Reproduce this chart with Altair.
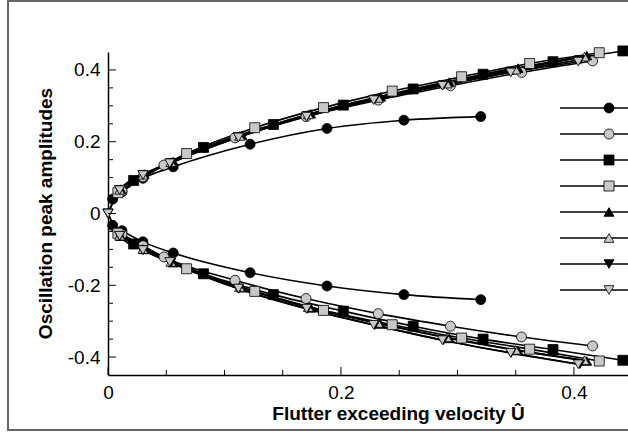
import altair as alt
import pandas as pd

# ---------------- data ----------------
names = ["Case 1", "Case 2", "Case 3", "Case 4", "Case 5", "Case 6", "Case 7", "Case 8"]
shapes = ["circle", "circle", "square", "square",
          "triangle-up", "triangle-up", "triangle-down", "triangle-down"]
fills = ["black", "#c8c8c8", "black", "#c8c8c8", "black", "#c8c8c8", "black", "#c8c8c8"]
sizes = [100, 100, 64, 64, 72, 72, 72, 72]

s1_x = [0.004, 0.012, 0.030, 0.056, 0.122, 0.188, 0.254, 0.320]
s1_up = [0.040, 0.060, 0.098, 0.130, 0.193, 0.237, 0.260, 0.270]
s1_lo = [-0.033, -0.048, -0.079, -0.110, -0.165, -0.202, -0.226, -0.240]

s2_x = [0.012, 0.030, 0.048, 0.109, 0.170, 0.232, 0.294, 0.355, 0.416]
s2_up = [0.062, 0.102, 0.135, 0.211, 0.270, 0.316, 0.356, 0.393, 0.425]
s2_lo = [-0.058, -0.090, -0.121, -0.186, -0.237, -0.279, -0.314, -0.344, -0.369]

s3_x = [0.022, 0.082, 0.142, 0.202, 0.262, 0.322, 0.382, 0.442]
s3_up = [0.092, 0.184, 0.248, 0.302, 0.347, 0.388, 0.423, 0.453]
s3_lo = [-0.085, -0.168, -0.226, -0.272, -0.314, -0.350, -0.379, -0.409]

s4_x = [0.0085, 0.0675, 0.126, 0.185, 0.244, 0.3036, 0.362, 0.4217]
s4_up = [0.058, 0.167, 0.239, 0.295, 0.341, 0.381, 0.418, 0.448]
s4_lo = [-0.055, -0.154, -0.217, -0.270, -0.310, -0.347, -0.378, -0.411]

s5_x = [0.011, 0.031, 0.056, 0.115, 0.174, 0.234, 0.293, 0.352, 0.411]
s5_up = [0.068, 0.110, 0.145, 0.218, 0.278, 0.325, 0.366, 0.405, 0.440]
s5_lo = [-0.063, -0.100, -0.137, -0.207, -0.263, -0.308, -0.348, -0.382, -0.411]

s6_x = [0.010, 0.030, 0.054, 0.113, 0.172, 0.232, 0.291, 0.350, 0.409]
s6_up = [0.066, 0.108, 0.143, 0.216, 0.276, 0.322, 0.362, 0.401, 0.437]
s6_lo = [-0.062, -0.099, -0.135, -0.205, -0.261, -0.305, -0.345, -0.380, -0.409]

s7_x = [0.0, 0.010, 0.030, 0.054, 0.112, 0.171, 0.229, 0.288, 0.346, 0.405]
s7_up = [0.0, 0.066, 0.108, 0.141, 0.213, 0.272, 0.318, 0.358, 0.396, 0.428]
s7_lo = [0.0, -0.063, -0.102, -0.137, -0.210, -0.266, -0.311, -0.353, -0.389, -0.420]

s8_x = [0.0, 0.010, 0.030, 0.053, 0.112, 0.1705, 0.228, 0.287, 0.3457, 0.4037]
s8_up = [0.0, 0.065, 0.107, 0.140, 0.212, 0.270, 0.316, 0.356, 0.393, 0.423]
s8_lo = [0.0, -0.062, -0.102, -0.135, -0.209, -0.265, -0.310, -0.353, -0.388, -0.420]

x_major = [0.0, 0.2, 0.4]
x_minor = [0.05, 0.1, 0.15, 0.25, 0.3, 0.35]
y_major = [-0.4, -0.2, 0.0, 0.2, 0.4]
y_minor = [-0.35, -0.3, -0.25, -0.15, -0.1, -0.05, 0.05, 0.1, 0.15, 0.25, 0.3, 0.35]

# ---------------- build tables ----------------
series = [
    (s1_x, s1_up, s1_lo), (s2_x, s2_up, s2_lo), (s3_x, s3_up, s3_lo), (s4_x, s4_up, s4_lo),
    (s5_x, s5_up, s5_lo), (s6_x, s6_up, s6_lo), (s7_x, s7_up, s7_lo), (s8_x, s8_up, s8_lo),
]
rows = []
for name, (xs, ups, los) in zip(names, series):
    for xv, yv in zip(xs, ups):
        rows.append({"series": name, "key": name + " upper", "x": xv, "y": yv})
    for xv, yv in zip(xs, los):
        rows.append({"series": name, "key": name + " lower", "x": xv, "y": yv})
df = pd.DataFrame(rows)

FONT = "Liberation Sans"
xscale = alt.Scale(domain=[0, 0.4464], nice=False, zero=False)
yscale = alt.Scale(domain=[-0.45, 0.45], nice=False, zero=False)
shape_sc = alt.Scale(domain=names, range=shapes)
fill_sc = alt.Scale(domain=names, range=fills)
size_sc = alt.Scale(domain=names, range=sizes)

x_axis = alt.Axis(values=x_major, ticks=False, tickSize=0, grid=False,
                  domainColor="black", domainWidth=1.5,
                  labelFont=FONT, labelFontSize=19, labelColor="black", labelPadding=8,
                  labelFlush=False, labelExpr="toString(datum.value)",
                  title="Flutter exceeding velocity Û", titleFont=FONT, titleFontSize=19,
                  titleFontWeight="bold", titleColor="black",
                  titleX=290, titleY=44, titleAlign="center", titleBaseline="alphabetic")
y_axis = alt.Axis(values=y_major, ticks=False, tickSize=0, grid=False,
                  domainColor="black", domainWidth=1.5,
                  labelFont=FONT, labelFontSize=19, labelColor="black", labelPadding=8,
                  labelFlush=False, labelExpr="toString(datum.value)",
                  title="Oscillation peak amplitudes", titleFont=FONT, titleFontSize=19,
                  titleFontWeight="bold", titleColor="black", titleAngle=270,
                  titleX=-57, titleY=161, titleAlign="center", titleBaseline="alphabetic")

frame = alt.Chart(pd.DataFrame({"a": [0]})).mark_rect(
    fillOpacity=0, stroke="#666666", strokeWidth=2
).encode(x=alt.value(-100), x2=alt.value(560), y=alt.value(-51), y2=alt.value(378))

lines = alt.Chart(df).mark_line(color="black", strokeWidth=1.6, interpolate="monotone").encode(
    x=alt.X("x:Q", scale=xscale, axis=x_axis),
    y=alt.Y("y:Q", scale=yscale, axis=y_axis),
    detail="key:N",
    order="x:Q",
)

points = alt.Chart(df).mark_point(filled=True, stroke="black", strokeWidth=0.8, opacity=1).encode(
    x=alt.X("x:Q", scale=xscale),
    y=alt.Y("y:Q", scale=yscale),
    shape=alt.Shape("series:N", scale=shape_sc, legend=None),
    fill=alt.Fill("series:N", scale=fill_sc, legend=None),
    size=alt.Size("series:N", scale=size_sc, legend=None),
)

xt_major = alt.Chart(pd.DataFrame({"x": x_major})).mark_rule(color="black", strokeWidth=1).encode(
    x=alt.X("x:Q", scale=xscale), y=alt.value(323), y2=alt.value(315))
xt_minor = alt.Chart(pd.DataFrame({"x": x_minor})).mark_rule(color="black", strokeWidth=1).encode(
    x=alt.X("x:Q", scale=xscale), y=alt.value(323), y2=alt.value(318))
yt_major = alt.Chart(pd.DataFrame({"y": y_major})).mark_rule(color="black", strokeWidth=1).encode(
    y=alt.Y("y:Q", scale=yscale), x=alt.value(0), x2=alt.value(8))
yt_minor = alt.Chart(pd.DataFrame({"y": y_minor})).mark_rule(color="black", strokeWidth=1).encode(
    y=alt.Y("y:Q", scale=yscale), x=alt.value(0), x2=alt.value(5))

main = alt.layer(frame, lines, points, xt_major, xt_minor, yt_major, yt_minor)

# legend (labels fall outside the visible window, as in the reference)
leg_df = pd.DataFrame({"series": names, "row": list(range(len(names)))})
leg_y = alt.Y("row:Q", scale=alt.Scale(domain=[0, 7], range=[56, 238]), axis=None)
leg_lines = alt.Chart(leg_df).mark_rule(color="black", strokeWidth=1.4).encode(
    y=leg_y, x=alt.value(452), x2=alt.value(540))
leg_points = alt.Chart(leg_df).mark_point(filled=True, stroke="black", strokeWidth=0.8, opacity=1).encode(
    y=leg_y, x=alt.value(501),
    shape=alt.Shape("series:N", scale=shape_sc, legend=None),
    fill=alt.Fill("series:N", scale=fill_sc, legend=None),
    size=alt.Size("series:N", scale=size_sc, legend=None),
)
legend = alt.layer(leg_lines, leg_points)

chart = alt.layer(main, legend).resolve_scale(y="independent").properties(
    width=520, height=323,
    padding={"left": 108, "top": 52, "right": 0, "bottom": 60},
    autosize=alt.AutoSizeParams(type="none"),
    background="white",
).configure_view(stroke="transparent")

chart.save("out.html", embed_options={"renderer": "svg", "actions": False})
